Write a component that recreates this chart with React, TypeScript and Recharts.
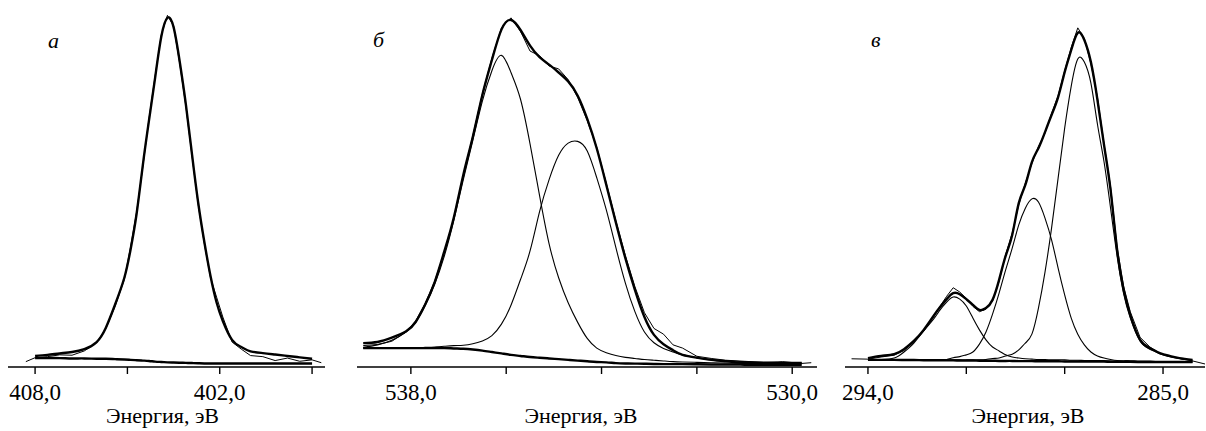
import { LineChart, Line, XAxis, YAxis } from "recharts"

const SERIF = "Liberation Serif"

// --- а: N 1s ---
const aEnergy = [408.3, 408.0, 407.6, 407.2, 406.8, 406.4, 406.0, 405.7, 405.4, 405.1, 404.9, 404.7, 404.5, 404.3, 404.1, 403.9, 403.7, 403.5, 403.3, 403.1, 402.9, 402.7, 402.5, 402.3, 402.1, 401.9, 401.6, 401.3, 401.0, 400.6, 400.2, 399.8, 399.4, 399.0, 398.7]
const aExperiment = [1.5, 2.6, 2.9, 3.4, 3.3, 4.5, 6.8, 10.8, 17.0, 24.5, 33.5, 43.5, 56.0, 69.5, 81.5, 93.0, 98.5, 95.5, 85.0, 73.0, 59.0, 45.5, 34.5, 25.0, 19.5, 14.0, 7.0, 5.0, 3.2, 2.9, 1.8, 2.5, 1.6, 2.0, 1.2]
const aEnvelope = [null, 3.1, 3.4, 3.8, 4.2, 5.0, 7.0, 11.0, 17.5, 25.0, 32.8, 43.0, 56.5, 69.0, 81.0, 92.5, 97.8, 95.2, 85.5, 73.5, 59.5, 46.0, 35.0, 25.5, 18.0, 12.9, 7.6, 5.6, 4.4, 3.9, 3.5, 3.1, 2.7, 2.3, null]
const aBackground = [null, 2.5, 2.5, 2.5, 2.4, 2.4, 2.3, 2.3, 2.2, 2.1, 2.0, 1.9, 1.8, 1.7, 1.5, 1.4, 1.3, 1.25, 1.2, 1.15, 1.1, 1.05, 1.0, 1.0, 1.0, 1.0, 1.0, 1.0, 1.0, 1.0, 1.0, 1.0, 1.0, 1.0, null]

// --- б: O 1s ---
const bEnergy = [539.0, 538.7, 538.4, 538.1, 537.9, 537.7, 537.5, 537.3, 537.1, 536.9, 536.7, 536.5, 536.3, 536.1, 535.9, 535.7, 535.5, 535.3, 535.1, 534.9, 534.7, 534.5, 534.3, 534.1, 533.9, 533.7, 533.5, 533.3, 533.1, 532.9, 532.7, 532.5, 532.3, 532.0, 531.7, 531.4, 531.0, 530.6, 530.2, 529.8, 529.6]
const bExperiment = [6.0, 6.3, 7.2, 9.8, 12.9, 17.8, 24.0, 32.0, 41.5, 53.5, 64.8, 76.5, 86.5, 95.0, 97.8, 94.0, 88.5, 87.2, 84.3, 83.5, 80.5, 75.5, 69.0, 61.5, 51.5, 41.0, 31.2, 22.5, 15.2, 10.8, 9.2, 6.2, 5.3, 3.0, 2.4, 1.9, 1.6, 1.3, 1.5, 1.0, 1.2]
const bEnvelope = [6.7, 7.0, 8.2, 10.0, 12.6, 17.5, 23.8, 32.3, 41.8, 53.8, 64.5, 76.2, 86.0, 94.5, 97.2, 94.4, 90.0, 86.8, 84.7, 82.5, 80.0, 76.0, 69.5, 61.2, 51.0, 40.5, 30.5, 21.6, 14.0, 9.0, 6.4, 4.7, 3.4, 2.6, 2.0, 1.6, 1.2, 1.1, 1.1, 1.1, null]
const bPeak1 = [5.5, 6.2, 7.5, 9.8, 12.5, 17.2, 23.2, 31.0, 41.0, 52.5, 63.5, 74.5, 83.0, 87.3, 82.5, 75.0, 62.5, 48.0, 34.5, 25.0, 18.0, 12.5, 8.0, 5.3, 4.0, 3.2, 2.7, 2.4, 2.1, 1.9, 1.7, 1.5, 1.4, 1.3, 1.2, 1.1, 1.0, 1.0, 1.0, 1.0, null]
const bPeak2 = [5.3, 5.3, 5.3, 5.3, 5.4, 5.5, 5.6, 5.8, 6.0, 6.1, 6.5, 7.3, 8.8, 12.0, 17.3, 24.5, 32.5, 43.5, 52.5, 59.3, 62.7, 63.2, 60.5, 53.0, 44.0, 33.5, 23.5, 15.5, 9.8, 6.8, 5.2, 4.2, 3.4, 2.6, 2.1, 1.8, 1.5, 1.3, 1.2, 1.1, null]
const bBackground = [5.3, 5.3, 5.3, 5.3, 5.3, 5.3, 5.3, 5.3, 5.2, 5.1, 4.9, 4.6, 4.2, 3.8, 3.4, 3.1, 2.8, 2.6, 2.4, 2.2, 2.0, 1.8, 1.6, 1.4, 1.3, 1.1, 1.0, 0.95, 0.9, 0.85, 0.8, 0.8, 0.8, 0.75, 0.7, 0.7, 0.65, 0.6, 0.6, 0.6, null]

// --- в: C 1s ---
const vEnergy = [294.5, 294.0, 293.6, 293.2, 292.9, 292.6, 292.3, 292.0, 291.8, 291.6, 291.4, 291.2, 291.0, 290.8, 290.6, 290.4, 290.2, 290.0, 289.8, 289.6, 289.4, 289.2, 289.0, 288.8, 288.6, 288.4, 288.2, 288.0, 287.8, 287.6, 287.4, 287.2, 287.0, 286.8, 286.6, 286.4, 286.2, 286.0, 285.7, 285.4, 285.1, 284.8, 284.5, 284.1, 283.7]
const vExperiment = [2.3, 2.2, 2.8, 3.3, 4.6, 7.0, 10.0, 14.0, 17.0, 19.8, 22.2, 21.0, 19.2, 17.0, 15.5, 16.2, 18.5, 24.0, 31.5, 37.5, 45.5, 51.5, 57.0, 61.8, 65.5, 71.0, 76.0, 83.0, 89.5, 95.0, 92.0, 85.0, 75.5, 62.5, 50.5, 33.5, 22.5, 15.5, 8.3, 5.6, 3.8, 3.0, 2.4, 1.7, 0.8]
const vEnvelope = [null, 2.5, 3.1, 3.6, 5.0, 7.3, 10.4, 14.3, 16.8, 19.0, 20.7, 20.4, 19.0, 17.4, 16.0, 16.5, 18.8, 24.4, 31.1, 37.0, 45.9, 51.0, 57.4, 61.3, 65.8, 70.6, 75.6, 82.6, 88.8, 93.6, 91.6, 85.4, 74.8, 62.2, 49.6, 32.8, 21.6, 14.6, 7.6, 5.3, 3.9, 3.1, 2.5, 1.96, null]
const vPeakA = [null, 2.0, 2.1, 2.5, 4.2, 6.7, 10.1, 13.4, 16.0, 18.2, 19.6, 19.0, 17.1, 13.7, 10.4, 7.6, 5.6, 4.5, 3.4, 2.8, 2.5, 2.3, 2.2, 2.1, 2.1, 2.0, 2.0, 2.0, 1.9, 1.9, 1.8, 1.8, 1.8, 1.8, 1.7, 1.7, 1.7, 1.7, 1.6, 1.6, 1.5, 1.5, 1.5, 1.4, null]
const vPeakB = [null, 2.0, 2.0, 2.0, 2.0, 2.0, 2.0, 2.0, 2.0, 2.1, 2.6, 2.9, 3.4, 4.2, 6.4, 9.8, 14.8, 20.7, 27.2, 33.3, 39.8, 44.5, 47.1, 46.2, 41.7, 35.6, 27.7, 20.2, 13.7, 9.2, 6.2, 4.2, 3.1, 2.5, 2.1, 1.8, 1.7, 1.7, 1.6, 1.6, 1.5, 1.5, 1.5, 1.4, null]
const vPeakC = [null, 2.0, 2.0, 2.0, 2.0, 2.0, 2.0, 2.0, 2.0, 2.0, 2.0, 2.0, 2.0, 2.0, 2.0, 2.1, 2.4, 2.5, 3.1, 3.6, 4.8, 6.7, 9.2, 16.5, 26.6, 38.9, 52.9, 66.9, 78.7, 86.3, 85.4, 79.5, 68.0, 57.5, 44.5, 31.0, 20.5, 13.8, 7.3, 5.0, 3.7, 2.9, 2.4, 1.9, null]
const vBackground = [null, 2.0, 2.0, 2.0, 1.95, 1.95, 1.9, 1.9, 1.9, 1.85, 1.85, 1.8, 1.8, 1.8, 1.75, 1.75, 1.75, 1.7, 1.7, 1.7, 1.65, 1.65, 1.65, 1.6, 1.6, 1.6, 1.6, 1.55, 1.55, 1.55, 1.5, 1.5, 1.5, 1.5, 1.45, 1.45, 1.45, 1.45, 1.4, 1.4, 1.4, 1.4, 1.4, 1.4, null]

const aTicks = [408, 405, 402, 399]
const aLabeled = [408, 402]
const bTicks = [538, 536, 534, 532, 530]
const bLabeled = [538, 530]
const vTicks = [294, 291, 288, 285]
const vLabeled = [294, 285]

const axisTitle = "Энергия, эВ"

type Series = { key: string; values: (number | null)[]; width: number; curve: "natural" | "linear" }

function buildRows(energy: number[], series: Series[]) {
  return energy.map((e, i) => {
    const row: Record<string, number | null> = { e }
    series.forEach((s) => (row[s.key] = s.values[i]))
    return row
  })
}

function Panel(props: {
  left: number
  width: number
  domain: [number, number]
  ticks: number[]
  labeled: number[]
  energy: number[]
  series: Series[]
  titleDx: number
}) {
  const { left, width, domain, ticks, labeled, energy, series, titleDx } = props
  const data = buildRows(energy, series)

  const renderTick = (p: any) => {
    const v = p.payload.value as number
    if (!labeled.includes(v)) return <g />
    return (
      <text x={p.x} y={p.y + 16} textAnchor="middle" fontSize={23} fill="#000" style={{ fontFamily: SERIF }}>
        {v.toFixed(1).replace(".", ",")}
      </text>
    )
  }

  const renderTitle = (p: any) => {
    const vb = p.viewBox
    return (
      <text x={vb.x + vb.width / 2 + titleDx} y={vb.y + vb.height - 8} textAnchor="middle" fontSize={22} fill="#000" style={{ fontFamily: SERIF }}>
        {axisTitle}
      </text>
    )
  }

  return (
    <div style={{ position: "absolute", left, top: 0 }}>
      <LineChart width={width} height={431} data={data} margin={{ top: 10, right: 0, bottom: 0, left: 0 }}>
        <XAxis
          dataKey="e"
          type="number"
          domain={domain}
          reversed
          allowDataOverflow
          ticks={ticks}
          interval={0}
          height={64}
          tickSize={7}
          tickMargin={10}
          stroke="#000"
          strokeWidth={1.4}
          tick={renderTick}
          label={{ content: renderTitle }}
        />
        <YAxis hide domain={[0, 100]} />
        {series.map((s) => (
          <Line
            key={s.key}
            dataKey={s.key}
            type={s.curve}
            stroke="#000"
            strokeWidth={s.width}
            dot={false}
            activeDot={false}
            isAnimationActive={false}
          />
        ))}
      </LineChart>
    </div>
  )
}

export default function App() {
  return (
    <div style={{ position: "absolute", left: 0, top: 0, width: 1206, height: 431, background: "#fff" }}>
      <style>{"svg { overflow: visible; }"}</style>
      <Panel
        left={8}
        width={317}
        domain={[398.58, 408.88]}
        ticks={aTicks}
        labeled={aLabeled}
        energy={aEnergy}
        titleDx={-4}
        series={[
          { key: "background", values: aBackground, width: 2.4, curve: "natural" },
          { key: "experiment", values: aExperiment, width: 1, curve: "linear" },
          { key: "envelope", values: aEnvelope, width: 2.4, curve: "natural" },
        ]}
      />
      <Panel
        left={357}
        width={460}
        domain={[529.48, 539.13]}
        ticks={bTicks}
        labeled={bLabeled}
        energy={bEnergy}
        titleDx={-6}
        series={[
          { key: "background", values: bBackground, width: 2.4, curve: "natural" },
          { key: "peak1", values: bPeak1, width: 1.1, curve: "natural" },
          { key: "peak2", values: bPeak2, width: 1.1, curve: "natural" },
          { key: "experiment", values: bExperiment, width: 1, curve: "linear" },
          { key: "envelope", values: bEnvelope, width: 2.4, curve: "natural" },
        ]}
      />
      <Panel
        left={845}
        width={360}
        domain={[283.72, 294.7]}
        ticks={vTicks}
        labeled={vLabeled}
        energy={vEnergy}
        titleDx={3}
        series={[
          { key: "background", values: vBackground, width: 2.4, curve: "natural" },
          { key: "peakA", values: vPeakA, width: 1.1, curve: "natural" },
          { key: "peakB", values: vPeakB, width: 1.1, curve: "natural" },
          { key: "peakC", values: vPeakC, width: 1.1, curve: "natural" },
          { key: "experiment", values: vExperiment, width: 1, curve: "linear" },
          { key: "envelope", values: vEnvelope, width: 2.4, curve: "natural" },
        ]}
      />
      <svg width={1206} height={431} style={{ position: "absolute", left: 0, top: 0, pointerEvents: "none" }}>
        <text x={48} y={48} fontStyle="italic" fontSize={22} fill="#000" style={{ fontFamily: SERIF }}>а</text>
        <text x={373} y={47} fontStyle="italic" fontSize={22} fill="#000" style={{ fontFamily: SERIF }}>б</text>
        <text x={871} y={47} fontStyle="italic" fontSize={22} fill="#000" style={{ fontFamily: SERIF }}>в</text>
      </svg>
    </div>
  )
}
